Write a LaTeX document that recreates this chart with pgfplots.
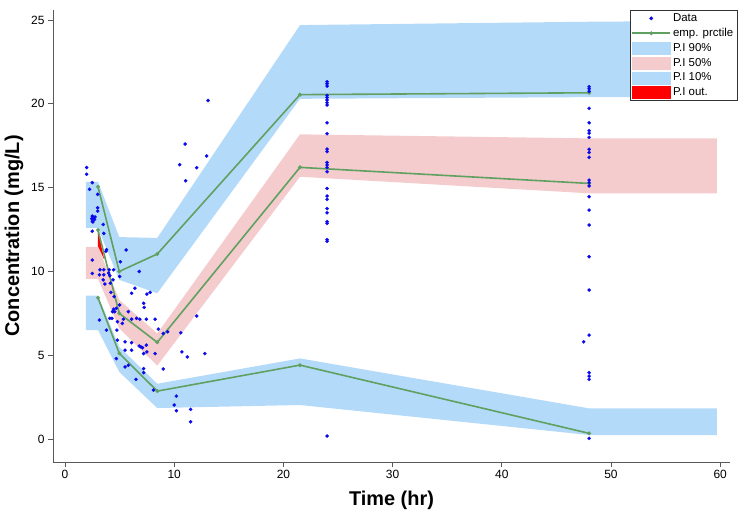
\documentclass[border=0pt]{standalone}
\usepackage{fontspec}
\setmainfont{Liberation Sans}
\usepackage{pgfplots}
\pgfplotsset{compat=1.18}
\definecolor{bandblue}{RGB}{180,218,250}
\definecolor{bandpink}{RGB}{244,204,206}
\definecolor{empgreen}{RGB}{96,160,96}
\definecolor{datablue}{RGB}{10,10,235}
\pgfplotsset{
  areaimg/.style={legend image code/.code={\fill[##1] (0bp,-6bp) rectangle (38bp,6bp);}},
  lineimg/.style={legend image code/.code={\draw[##1] (0bp,0bp) -- (38bp,0bp); \fill[##1] (19bp,0bp) circle (1bp);}},
  dotimg/.style={legend image code/.code={\fill[##1] (19bp,0bp) circle (1.7bp);}},
}
\begin{document}
\begin{tikzpicture}
\path[use as bounding box] (0,0) rectangle (750bp,518bp);
\begin{axis}[
  at={(53bp,56bp)}, anchor=south west,
  scale only axis, width=677bp, height=452bp,
  xmin=-1.1, xmax=60.9, ymin=-1.37, ymax=25.6,
  axis x line=bottom, axis y line=left,
  axis line style={black!65, line width=0.8pt, -},
  xtick={0,10,...,60}, ytick={0,5,...,25},
  tick align=outside, major tick length=5bp,
  tick style={black!65, line width=0.8pt},
  ticklabel style={font=\fontsize{12}{14}\selectfont},
  /pgf/number format/assume math mode=true,
  xlabel={\textbf{Time (hr)}}, ylabel={\textbf{Concentration (mg/L)}},
  label style={font=\fontsize{20}{24}\selectfont},
  xlabel style={at={(0.5,-0.084)}, anchor=center},
  ylabel style={at={(-0.0576,0.5)}, anchor=center},
  legend style={at={(1.0103,1.0)}, anchor=north east, draw=black!80, fill=white,
    font=\fontsize{11.5}{13}\selectfont, inner sep=1.5bp, row sep=1.3bp},
  legend cell align=left,
]
% bands
\addplot[fill=bandblue, draw=none, forget plot] coordinates {
 (1.9,15.35)(3.02,15.35)(4.97,12.05)(8.45,12.0)(21.52,24.7)(48.0,24.9)(59.7,24.95)
 (59.7,20.4)(48.0,20.4)(21.52,20.3)(8.45,8.7)(4.97,9.5)(3.02,12.6)(1.9,12.6)} -- cycle;
\addplot[fill=bandpink, draw=none, forget plot] coordinates {
 (1.9,11.47)(3.02,11.47)(4.97,8.3)(8.45,6.3)(21.52,18.18)(48.0,17.94)(59.7,17.94)
 (59.7,14.66)(48.0,14.66)(21.52,15.65)(8.45,4.38)(4.97,6.6)(3.02,9.55)(1.9,9.55)} -- cycle;
\addplot[fill=bandblue, draw=none, forget plot] coordinates {
 (1.9,8.55)(3.02,8.55)(4.97,5.5)(8.45,3.3)(21.52,4.81)(48.0,1.83)(59.7,1.83)
 (59.7,0.24)(48.0,0.24)(21.52,2.03)(8.45,1.85)(4.97,4.0)(3.02,6.5)(1.9,6.5)} -- cycle;
\addplot[fill=red, draw=none, forget plot] coordinates {
 (3.02,12.45)(3.02,11.5)(3.6,10.7)} -- cycle;
% empirical percentiles
\addplot[empgreen, line width=1.6bp, mark=*, mark size=1bp, forget plot] coordinates {
 (3.02,15.05)(4.97,10.0)(8.45,11.04)(21.52,20.55)(48.0,20.66)};
\addplot[empgreen, line width=1.6bp, mark=*, mark size=1bp, forget plot] coordinates {
 (3.02,12.47)(4.97,7.5)(8.45,5.77)(21.52,16.21)(48.0,15.25)};
\addplot[empgreen, line width=1.6bp, mark=*, mark size=1bp, forget plot] coordinates {
 (3.02,8.43)(4.97,5.11)(8.45,2.86)(21.52,4.41)(48.0,0.34)};
% data
\addplot[only marks, mark=*, mark size=1.7bp, mark options={fill=datablue, draw=datablue, line width=0.2bp}, forget plot] coordinates {
 (1.98,16.2)(1.98,15.8)(2.5,15.3)(2.25,14.9)(2.99,14.6)(2.99,13.8)(2.99,13.6)
 (2.5,13.3)(2.6,13.2)(2.7,13.1)(2.5,13.0)(2.75,13.25)(2.55,12.95)(2.45,13.15)
 (3.5,12.8)(2.5,12.4)(3.55,12.27)(3.8,11.3)(3.75,11.2)(5.6,11.28)(2.5,10.68)(5.07,10.58)
 (2.5,9.88)(3.2,10.1)(3.55,10.1)(4.05,10.1)(4.45,10.1)(3.15,9.8)(3.55,9.8)(3.5,9.5)(3.65,9.25)
 (4.1,9.75)(4.4,9.5)(4.15,9.3)(4.0,9.9)(5.0,9.7)(6.8,10.0)(6.4,9.0)(6.1,8.7)(7.5,8.65)(7.8,8.75)
 (4.2,8.75)(4.5,8.5)(7.2,8.1)(7.25,7.85)(5.8,7.6)(4.35,7.6)(4.45,7.75)(4.55,7.6)(4.7,7.8)(5.0,8.0)
 (4.1,7.2)(4.3,7.2)(3.15,7.1)(3.8,6.5)(4.75,6.5)(4.8,7.0)(5.35,7.15)(5.25,6.9)(6.1,7.15)(6.55,7.2)(6.85,7.15)(7.45,7.15)(8.25,7.15)
 (8.55,6.56)(9.0,6.3)(9.4,6.4)(10.6,6.34)(12.06,7.34)(4.8,5.9)(5.5,5.8)(6.1,5.75)(6.8,5.55)(7.1,5.45)(7.45,5.6)(7.5,5.2)(6.95,5.5)
 (5.5,5.3)(6.1,5.3)(7.2,5.1)(8.25,5.1)(10.7,5.2)(11.2,4.9)(12.8,5.1)(4.7,4.8)(5.5,4.3)(5.8,4.4)(7.2,4.2)(7.2,3.96)(6.5,3.56)(8.1,2.92)(9.0,4.18)(10.2,2.56)(10.0,2.03)(10.2,1.69)(11.5,1.77)(11.5,1.03)
 (10.5,16.37)(11.0,17.6)(11.05,15.41)(12.06,16.19)(12.97,16.89)(13.1,20.2)
 (24,21.32)(24,21.2)(24,21.06)(24,20.5)(24,20.38)(24,20.23)(24,20.07)(24,19.93)(24,18.87)(24,18.22)
 (24,17.3)(24,17.15)(24,16.5)(24,16.35)(24,16.2)(24,15.95)(24,14.95)(24,14.5)(24,14.3)(24,13.75)
 (24,13.5)(24,12.97)(24,12.87)(24,11.9)(24,11.8)(24,0.18)
 (48,21.02)(48,20.9)(48,20.75)(48,19.73)(48,18.87)(48,18.4)(48,18.25)(48,18.0)(48,17.29)(48,17.1)
 (48,16.81)(48,15.45)(48,15.3)(48,15.1)(48,14.46)(48,13.66)(48,12.77)(48,10.88)(48,8.89)(48,6.2)
 (47.5,5.8)(48,3.96)(48,3.75)(48,3.56)(48,0.04)};
% legend
\addlegendimage{dotimg, datablue}
\addlegendentry{Data}
\addlegendimage{lineimg, empgreen, line width=1.6bp}
\addlegendentry{emp. prctile}
\addlegendimage{areaimg, bandblue}
\addlegendentry{P.I 90\%}
\addlegendimage{areaimg, bandpink}
\addlegendentry{P.I 50\%}
\addlegendimage{areaimg, bandblue}
\addlegendentry{P.I 10\%}
\addlegendimage{areaimg, red}
\addlegendentry{P.I out.}
\end{axis}
\end{tikzpicture}
\end{document}
